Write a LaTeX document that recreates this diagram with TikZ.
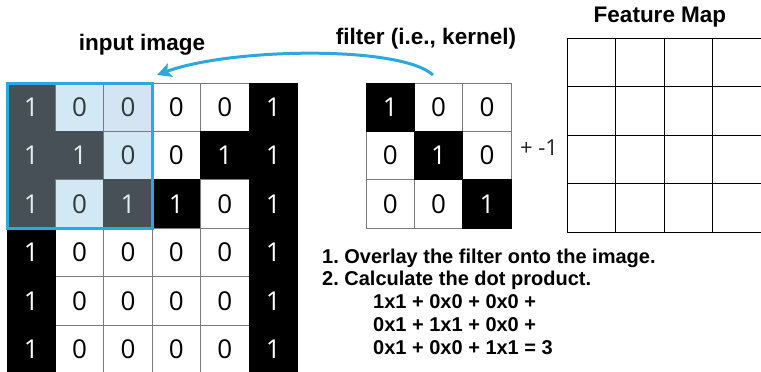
\documentclass[tikz,border=0pt]{standalone}
\usepackage{fontspec}
\setmainfont{Liberation Sans}
\newfontfamily\digitfont{Open Sans}
\usetikzlibrary{arrows.meta}
\frenchspacing

\definecolor{gridgray}{HTML}{7A7A7A}
\definecolor{hiblue}{HTML}{29A9E0}
\definecolor{hidark}{HTML}{474F57}
\definecolor{hilight}{HTML}{D2E9F5}
\definecolor{hilightb}{HTML}{D4E4F2}
\definecolor{hitext}{HTML}{E4ECF0}
\definecolor{hidigit}{HTML}{2E3A40}

\tikzset{
  pix/.style={minimum size=48.4pt, inner sep=0pt, outer sep=0pt, draw=gridgray, line width=0.9pt,
    font=\digitfont\fontsize{26}{26}\selectfont},
  pixoff/.style={pix, fill=white, text=black},
  pixon/.style={pix, fill=black, draw=black, text=white},
  pixdark/.style={pix, fill=hidark, draw=hidark, text=hitext},
  pixlight/.style={pix, fill=hilight, text=hidigit},
  mapcell/.style={minimum size=48.5pt, inner sep=0pt, outer sep=0pt, draw=black, line width=0.8pt},
  heading/.style={font=\bfseries\fontsize{22.5}{22.5}\selectfont, text=black},
  listline/.style={anchor=west, inner sep=0pt, font=\bfseries\fontsize{20}{20}\selectfont, text=black},
  hiframe/.style={draw=hiblue, line width=3pt},
  hiarrow/.style={draw=hiblue, line width=3pt, -{Stealth[length=14pt,width=14pt,inset=3pt]}}
}

\begin{document}
\begin{tikzpicture}[x=1pt,y=-1pt]
\useasboundingbox (0,0) rectangle (761,372);
% input image
\begin{scope}[shift={(7,83)}]
\node[pixdark]  (in11) at (24.2,24.2) {1};
\node[pixlight] (in12) at (72.6,24.2) {0};
\node[pixlight, fill=hilightb] (in13) at (121.0,24.2) {0};
\node[pixoff]   (in14) at (169.4,24.2) {0};
\node[pixoff]   (in15) at (217.8,24.2) {0};
\node[pixon]    (in16) at (266.2,24.2) {1};
\node[pixdark]  (in21) at (24.2,72.6) {1};
\node[pixdark]  (in22) at (72.6,72.6) {1};
\node[pixlight] (in23) at (121.0,72.6) {0};
\node[pixoff]   (in24) at (169.4,72.6) {0};
\node[pixon]    (in25) at (217.8,72.6) {1};
\node[pixon]    (in26) at (266.2,72.6) {1};
\node[pixdark]  (in31) at (24.2,121.0) {1};
\node[pixlight] (in32) at (72.6,121.0) {0};
\node[pixdark]  (in33) at (121.0,121.0) {1};
\node[pixon]    (in34) at (169.4,121.0) {1};
\node[pixoff]   (in35) at (217.8,121.0) {0};
\node[pixon]    (in36) at (266.2,121.0) {1};
\node[pixoff]   (in42) at (72.6,169.4) {0};
\node[pixoff]   (in43) at (121.0,169.4) {0};
\node[pixoff]   (in44) at (169.4,169.4) {0};
\node[pixoff]   (in45) at (217.8,169.4) {0};
\node[pixoff]   (in52) at (72.6,217.8) {0};
\node[pixoff]   (in53) at (121.0,217.8) {0};
\node[pixoff]   (in54) at (169.4,217.8) {0};
\node[pixoff]   (in55) at (217.8,217.8) {0};
\node[pixoff]   (in62) at (72.6,266.2) {0};
\node[pixoff]   (in63) at (121.0,266.2) {0};
\node[pixoff]   (in64) at (169.4,266.2) {0};
\node[pixoff]   (in65) at (217.8,266.2) {0};
\node[pixon]    (in41) at (24.2,169.4) {1};
\node[pixon]    (in46) at (266.2,169.4) {1};
\node[pixon]    (in51) at (24.2,217.8) {1};
\node[pixon]    (in56) at (266.2,217.8) {1};
\node[pixon]    (in61) at (24.2,266.2) {1};
\node[pixon]    (in66) at (266.2,266.2) {1};
\end{scope}
\draw[hiframe] (in11.north west) rectangle (in33.south east);
% filter
\begin{scope}[shift={(366,83)}]
\node[pixoff] (f12) at (72.6,24.2) {0};
\node[pixoff] (f13) at (121.0,24.2) {0};
\node[pixoff] (f21) at (24.2,72.6) {0};
\node[pixoff] (f23) at (121.0,72.6) {0};
\node[pixoff] (f31) at (24.2,121.0) {0};
\node[pixoff] (f32) at (72.6,121.0) {0};
\node[pixon]  (f11) at (24.2,24.2) {1};
\node[pixon]  (f22) at (72.6,72.6) {1};
\node[pixon]  (f33) at (121.0,121.0) {1};
\end{scope}
\node[font=\digitfont\fontsize{22}{22}\selectfont, text=black!85] (bias) at (539,148) {+ -1};
% feature map
\begin{scope}[shift={(567,38)}]
\node[mapcell] (m11) at (24.25,24.25) {};
\node[mapcell] (m12) at (72.75,24.25) {};
\node[mapcell] (m13) at (121.25,24.25) {};
\node[mapcell] (m14) at (169.75,24.25) {};
\node[mapcell] (m21) at (24.25,72.75) {};
\node[mapcell] (m22) at (72.75,72.75) {};
\node[mapcell] (m23) at (121.25,72.75) {};
\node[mapcell] (m24) at (169.75,72.75) {};
\node[mapcell] (m31) at (24.25,121.25) {};
\node[mapcell] (m32) at (72.75,121.25) {};
\node[mapcell] (m33) at (121.25,121.25) {};
\node[mapcell] (m34) at (169.75,121.25) {};
\node[mapcell] (m41) at (24.25,169.75) {};
\node[mapcell] (m42) at (72.75,169.75) {};
\node[mapcell] (m43) at (121.25,169.75) {};
\node[mapcell] (m44) at (169.75,169.75) {};
\end{scope}
% labels
\node[heading] (inlabel) at (142,45) {input image};
\node[heading] (filterlabel) at (426,39) {filter (i.e., kernel)};
\node[heading] (maplabel) at (660,17) {Feature Map};
\coordinate (arrowtail) at (433,75);
\coordinate (arrowtip) at (157,75);
\draw[hiarrow] (arrowtail) .. controls (400,45) and (230,48) .. (arrowtip);
% steps
\node[listline] (line1) at (322,258) {1. Overlay the filter onto the image.};
\node[listline] (line2) at (322,280) {2. Calculate the dot product.};
\node[listline] (line3) at (373,302) {1x1 + 0x0 + 0x0 +};
\node[listline] (line4) at (373,325) {0x1 + 1x1 + 0x0 +};
\node[listline] (line5) at (373,348) {0x1 + 0x0 + 1x1 = 3};
\end{tikzpicture}
\end{document}
